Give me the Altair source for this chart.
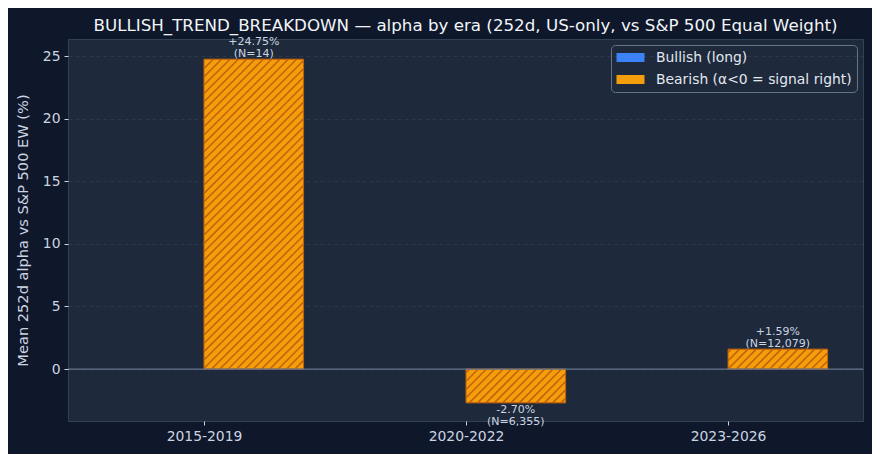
import json
import math
import altair as alt
import pandas as pd

# ---- data ----
eras = ["2015-2019", "2020-2022", "2023-2026"]
series_names = ["Bullish (long)", "Bearish (α<0 = signal right)"]
bullish_alpha = [None, None, None]
bullish_n = [0, 0, 0]
bearish_alpha = [24.75, -2.70, 1.59]
bearish_n = [14, 6355, 12079]
y_ticks = [0, 5, 10, 15, 20, 25]

# ---- layout / style ----
BAR_W = 0.38
X_DOMAIN = [-0.519, 2.515]
Y_DOMAIN = [-4.15, 26.36]
W, H = 795, 382
FONT = "DejaVu Sans"
FIG_BG = "#0f172a"
AX_BG = "#1e293b"
FILL = ["#3b82f6", "#f59e0b"]
EDGE = ["#1d4ed8", "#c2610c"]
HATCH_D = 8.33
LINE_H = 12.2

rows = []
for i, era in enumerate(eras):
    for s, vals, ns, off in [
        (series_names[0], bullish_alpha, bullish_n, -BAR_W),
        (series_names[1], bearish_alpha, bearish_n, 0.0),
    ]:
        v = vals[i]
        if v is None:
            continue
        rows.append(dict(
            era=era, series=s, x0=i + off, x1=i + off + BAR_W, xc=i + off + BAR_W / 2,
            alpha=v, label=f"{v:+.2f}%\n(N={ns[i]:,})", pos=bool(v >= 0),
        ))
bars = pd.DataFrame(rows)

# hatch segments (///) clipped to each bar, computed from the bar values
sx = W / (X_DOMAIN[1] - X_DOMAIN[0])
sy = H / (Y_DOMAIN[1] - Y_DOMAIN[0])
seg = []
for r in rows:
    u0 = (r["x0"] - X_DOMAIN[0]) * sx
    u1 = (r["x1"] - X_DOMAIN[0]) * sx
    va = (0 - Y_DOMAIN[0]) * sy
    vb = (r["alpha"] - Y_DOMAIN[0]) * sy
    v0, v1 = min(va, vb), max(va, vb)
    k0 = math.ceil((u0 - v1) / HATCH_D)
    k1 = math.floor((u1 - v0) / HATCH_D)
    for k in range(k0, k1 + 1):
        c = k * HATCH_D
        ua = max(u0, v0 + c)
        ub = min(u1, v1 + c)
        if ub - ua < 0.5:
            continue
        seg.append(dict(
            series=r["series"],
            hx=ua / sx + X_DOMAIN[0], hy=(ua - c) / sy + Y_DOMAIN[0],
            hx2=ub / sx + X_DOMAIN[0], hy2=(ub - c) / sy + Y_DOMAIN[0],
        ))
hatch = pd.DataFrame(seg)

xscale = alt.Scale(domain=X_DOMAIN, nice=False, zero=False)
yscale = alt.Scale(domain=Y_DOMAIN, nice=False, zero=False)

label_expr = f"{json.dumps(eras)}[datum.value]"

base = alt.Chart(bars)

bar_layer = base.mark_rect(strokeWidth=1).encode(
    x=alt.X("x0:Q", scale=xscale, axis=alt.Axis(
        values=[0, 1, 2], labelExpr=label_expr, title=None, grid=False,
        tickColor="#cbd5e1", tickSize=4, labelColor="#cbd5e1", labelFontSize=13.9,
        labelFont=FONT, domain=False, labelPadding=4)),
    x2="x1:Q",
    y=alt.Y("alpha:Q", scale=yscale, axis=alt.Axis(
        values=y_ticks, title="Mean 252d alpha vs S&P 500 EW (%)", grid=True,
        gridColor="#94a3b8", gridOpacity=0.15, gridDash=[4, 3], gridWidth=0.8,
        tickColor="#cbd5e1", tickSize=4,
        labelColor="#cbd5e1", labelFontSize=13.9, labelFont=FONT, domain=False,
        titleColor="#cbd5e1", titleFontSize=14.6, titleFont=FONT,
        titleFontWeight="normal", titlePadding=12, labelPadding=4, zindex=1)),
    y2=alt.datum(0),
    fill=alt.Fill("series:N", scale=alt.Scale(domain=series_names, range=FILL),
                  legend=alt.Legend(
                      title=None, orient="top-right", offset=6,
                      fillColor=AX_BG, strokeColor="#64748b", cornerRadius=4,
                      padding=5, labelColor="#e2e8f0", labelFontSize=13.9,
                      labelFont=FONT, labelLimit=0,
                      symbolType="M-2,-0.64H2V0.64H-2Z", symbolOffset=7,
                      symbolSize=196, labelOffset=18, symbolStrokeWidth=1,
                      rowPadding=7, symbolOpacity=1)),
    stroke=alt.Stroke("series:N", scale=alt.Scale(domain=series_names, range=EDGE),
                      legend=None),
)

hatch_layer = alt.Chart(hatch).mark_rule(strokeWidth=1.5).encode(
    x=alt.X("hx:Q", scale=xscale),
    y=alt.Y("hy:Q", scale=yscale),
    x2="hx2:Q",
    y2="hy2:Q",
    color=alt.Color("series:N", scale=alt.Scale(domain=series_names, range=EDGE),
                    legend=None),
)

zero_rule = alt.Chart(pd.DataFrame({"z": [0]})).mark_rule(
    color="#64748b", strokeWidth=1.2).encode(y=alt.Y("z:Q", scale=yscale))

txt_pos = base.transform_filter("datum.pos").mark_text(
    baseline="bottom", dy=-LINE_H, fontSize=11, font=FONT, color="#cbd5e1",
    lineBreak="\n", lineHeight=LINE_H).encode(
    x=alt.X("xc:Q", scale=xscale), y=alt.Y("alpha:Q", scale=yscale), text="label:N")

txt_neg = base.transform_filter("!datum.pos").mark_text(
    baseline="top", dy=1, fontSize=11, font=FONT, color="#cbd5e1", lineBreak="\n",
    lineHeight=LINE_H).encode(
    x=alt.X("xc:Q", scale=xscale), y=alt.Y("alpha:Q", scale=yscale), text="label:N")

chart = alt.layer(bar_layer, hatch_layer, zero_rule, txt_pos, txt_neg).resolve_scale(
    color="independent", stroke="independent"
).properties(
    width=W, height=H,
    title=alt.TitleParams(
        "BULLISH_TREND_BREAKDOWN — alpha by era (252d, US-only, vs S&P 500 Equal Weight)",
        font=FONT, fontSize=16.7, fontWeight="normal", color="#f1f5f9",
        anchor="middle", offset=5, dy=4),
    autosize=alt.AutoSizeParams(type="none"),
    padding={"left": 60, "top": 31, "right": 9, "bottom": 33},
    background=FIG_BG,
).configure_view(fill=AX_BG, stroke="#334155", strokeWidth=1)

chart.save("out.html", embed_options={"renderer": "svg", "actions": False})
